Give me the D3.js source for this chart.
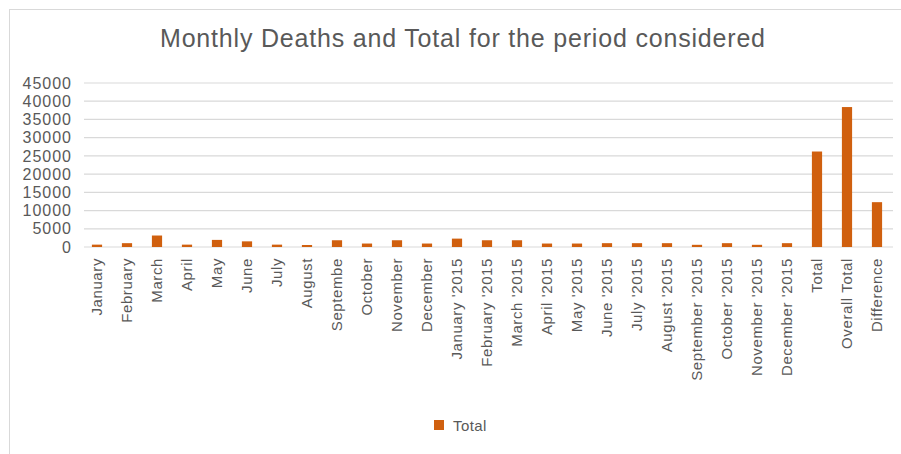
<!DOCTYPE html>
<html>
<head>
<meta charset="utf-8">
<script src="https://cdn.jsdelivr.net/npm/d3@7"></script>
<style>
  body { margin: 0; background: #fff; }
  text { font-family: "Liberation Sans", Arial, sans-serif; fill: #595959; }
</style>
</head>
<body>
<svg id="main"></svg>
<script>
// categories along the x axis
let categories = ["January", "February", "March", "April", "May", "June", "July",
	"August", "Septembe", "October", "November", "December",
	"January '2015", "February '2015", "March '2015", "April '2015", "May '2015",
	"June '2015", "July '2015", "August '2015", "September '2015", "October '2015",
	"November '2015", "December '2015", "Total", "Overall Total", "Difference"];

// deaths per category
let totals = [650, 1050, 3150, 650, 1950, 1550, 650,
	550, 1850, 950, 1850, 950,
	2300, 1850, 1850, 950, 950,
	1050, 1050, 1050, 600, 1050,
	600, 1050, 26200, 38400, 12300];

let yTicks = [0, 5000, 10000, 15000, 20000, 25000, 30000, 35000, 40000, 45000];

let seriesName = "Total";
let barColor = "#d0600f";

const W = 901, H = 454;

var svg = d3.select("#main")
	.attr("width", W)
	.attr("height", H);

// frame
svg.append("rect")
	.attr("x", 9.5).attr("y", 9.5)
	.attr("width", W).attr("height", H)
	.attr("fill", "none")
	.attr("stroke", "#d9d9d9");

// title
svg.append("text")
	.attr("x", 160).attr("y", 47)
	.attr("textLength", 605)
	.attr("lengthAdjust", "spacing")
	.style("font-size", "25px")
	.text("Monthly Deaths and Total for the period considered");

var x = d3.scaleBand()
	.domain(categories)
	.range([82, 892])
	.paddingInner(0.66)
	.paddingOuter(0.33);

var y = d3.scaleLinear()
	.domain([0, 45000])
	.range([247, 83]);

// gridlines
svg.append("g")
	.selectAll("line")
	.data(yTicks)
	.enter()
	.append("line")
	.attr("x1", 84).attr("x2", 893)
	.attr("y1", d => y(d)).attr("y2", d => y(d))
	.attr("stroke", "#d9d9d9")
	.attr("stroke-width", 1.2);

// Y axis
var yAxis = svg.append("g")
	.attr("transform", "translate(72,0)")
	.call(d3.axisLeft(y).tickValues(yTicks).tickSize(0).tickPadding(0).tickFormat(d3.format("d")));
yAxis.select(".domain").remove();
yAxis.selectAll("text")
	.style("font-size", "16px")
	.style("letter-spacing", "1px")
	.attr("fill", "#595959");

// X axis
var xAxis = svg.append("g")
	.attr("transform", "translate(0,247)")
	.call(d3.axisBottom(x).tickSize(0));
xAxis.select(".domain").remove();
xAxis.selectAll("text")
	.attr("transform", "rotate(-90)")
	.attr("x", -11)
	.attr("y", 0)
	.attr("dy", "0.35em")
	.style("text-anchor", "end")
	.style("font-size", "15px")
	.style("letter-spacing", "0.6px")
	.attr("fill", "#595959");

// Bars
svg.selectAll("rect.bar")
	.data(totals)
	.enter()
	.append("rect")
	.attr("class", "bar")
	.attr("x", (d, i) => x(categories[i]))
	.attr("y", d => y(d))
	.attr("width", x.bandwidth())
	.attr("height", d => y(0) - y(d))
	.attr("fill", barColor);

// legend
var legend = svg.append("g").attr("transform", "translate(434,420)");
legend.append("rect")
	.attr("width", 10).attr("height", 10)
	.attr("fill", barColor);
legend.append("text")
	.attr("x", 19).attr("y", 10.5)
	.style("font-size", "15px")
	.style("letter-spacing", "0.4px")
	.text(seriesName);
</script>
</body>
</html>
